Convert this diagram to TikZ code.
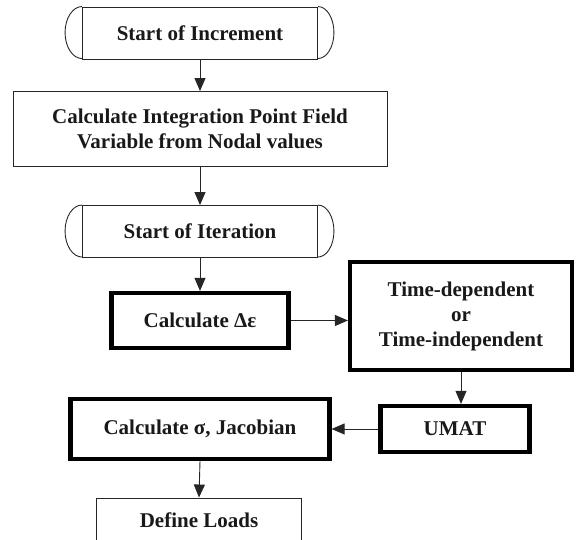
\documentclass[tikz,border=0pt]{standalone}
\usepackage{fontspec}
\setmainfont{Liberation Serif}
\usetikzlibrary{arrows.meta}
\tikzset{
  box/.style={draw=black!85,line width=0.9pt,inner sep=0pt,align=center,
    font=\fontsize{21}{25}\selectfont\bfseries,text=black!90},
  thickbox/.style={box,draw=black,line width=4.2pt},
  flow/.style={draw=black!85,line width=0.9pt,-{Triangle[length=13pt,width=11pt]}}
}

\begin{document}
\begin{tikzpicture}[x=1pt,y=1pt]
\clip (0,0) rectangle (576,540);
\node[box,minimum width=235pt,minimum height=52pt] (inc) at (200,507) {Start of Increment};
\node[box,minimum width=374pt,minimum height=75pt] (field) at (200,411) {Calculate Integration Point Field\\Variable from Nodal values};
\node[box,minimum width=235pt,minimum height=52pt] (iter) at (200,308.5) {Start of Iteration};
\node[thickbox,minimum width=177pt,minimum height=55pt] (strain) at (200,219.5) {Calculate Δε};
\node[thickbox,minimum width=222pt,minimum height=108pt] (dep) at (461,224) {Time-dependent\\or\\Time-independent};
\node[thickbox,minimum width=149pt,minimum height=46pt] (umat) at (455,111) {UMAT};
\node[thickbox,minimum width=259pt,minimum height=60pt] (stress) at (200,111) {Calculate σ, Jacobian};
\node[box,minimum width=205pt,minimum height=44pt] (loads) at (199,20) {Define Loads};
% rounded ends of the terminals
\foreach \n in {inc,iter} {
  \draw[black!85,line width=0.9pt] (\n.north west) arc[start angle=90,end angle=270,x radius=17pt,y radius=26pt];
  \draw[black!85,line width=0.9pt] (\n.north east) arc[start angle=90,end angle=-90,x radius=16pt,y radius=26pt];
}
\draw[flow] (inc.south) -- (field.north);
\draw[flow] (field.south) -- (iter.north);
\draw[flow] (iter.south) -- (strain.north);
\draw[flow] (strain.east) -- (strain.east -| dep.west);
\draw[flow] (dep.south) -- (dep.south |- umat.north);
\draw[flow] (umat.west) -- (stress.east);
\draw[flow] (stress.south) -- (loads.north);
\end{tikzpicture}
\end{document}
